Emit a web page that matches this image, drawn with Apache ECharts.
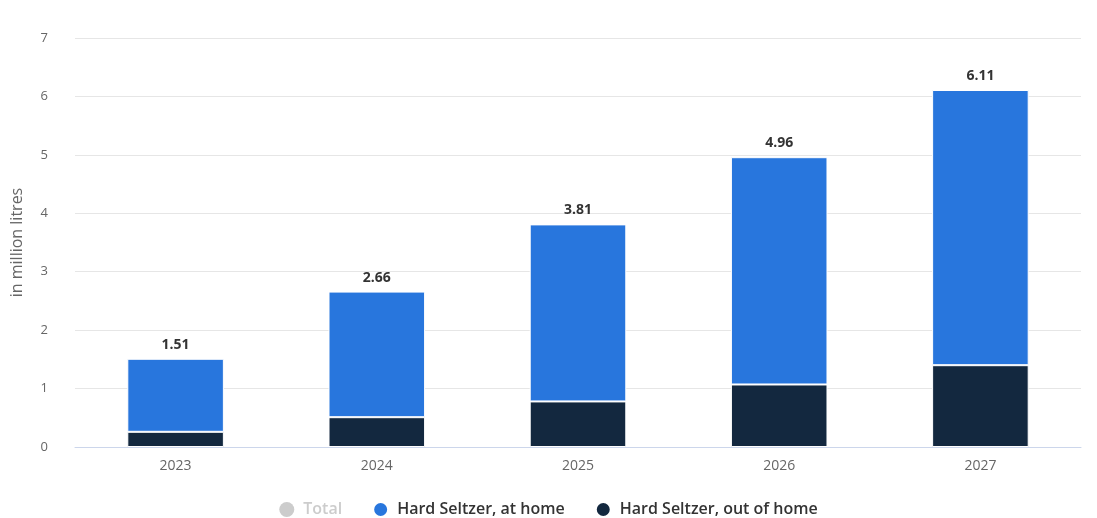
<!DOCTYPE html>
<html>
<head>
<meta charset="utf-8">
<script src="https://cdn.jsdelivr.net/npm/echarts@6/dist/echarts.min.js"></script>
<style>html,body{margin:0;padding:0;background:#fff}#c{width:1097px;height:518px}</style>
</head>
<body>
<div id="c"></div>
<script>
const categories = ['2023', '2024', '2025', '2026', '2027'];
const atHome = [1.25, 2.15, 3.03, 3.89, 4.71];
const outOfHome = [0.26, 0.51, 0.78, 1.07, 1.40];
const totals = [1.51, 2.66, 3.81, 4.96, 6.11];
const yTicks = [0, 1, 2, 3, 4, 5, 6, 7];

const font = 'Open Sans, Lato, sans-serif';
const chart = echarts.init(document.getElementById('c'), null, {renderer: 'canvas'});
chart.setOption({
  animation: false,
  textStyle: {fontFamily: font},
  grid: {left: 75, right: 16, top: 38, bottom: 71, containLabel: false, outerBoundsMode: 'none'},
  legend: {
    top: 496,
    left: 'center',
    icon: 'circle',
    itemWidth: 15,
    itemHeight: 15,
    itemGap: 30,
    textStyle: {color: '#333', fontSize: 16, fontWeight: 600, fontFamily: font, padding: [0, 0, 0, 4]},
    data: [
      {name: 'Total', itemStyle: {color: '#cccccc'}, textStyle: {color: '#cccccc'}},
      {name: 'Hard Seltzer, at home'},
      {name: 'Hard Seltzer, out of home'}
    ]
  },
  xAxis: {
    type: 'category',
    data: categories,
    axisLine: {lineStyle: {color: '#ccd6eb'}},
    axisTick: {alignWithLabel: true, length: 9, lineStyle: {color: '#ccd6eb'}},
    axisLabel: {color: '#666', fontSize: 14, margin: 12, fontFamily: font}
  },
  yAxis: {
    type: 'value',
    min: yTicks[0],
    max: yTicks[yTicks.length - 1],
    interval: 1,
    name: 'in million litres',
    nameLocation: 'middle',
    nameGap: 50,
    nameTextStyle: {color: '#666', fontSize: 16, fontFamily: font},
    axisLabel: {color: '#666', fontSize: 13, margin: 27, fontFamily: font},
    splitLine: {lineStyle: {color: '#e6e6e6'}},
    axisLine: {show: false},
    axisTick: {show: false}
  },
  series: [
    {
      name: 'Hard Seltzer, out of home',
      type: 'bar',
      stack: 's',
      data: outOfHome,
      barWidth: '48%',
      itemStyle: {color: '#13283f', borderColor: '#ffffff', borderWidth: 1},
      z: 2
    },
    {
      name: 'Hard Seltzer, at home',
      type: 'bar',
      stack: 's',
      data: atHome,
      barWidth: '48%',
      itemStyle: {color: '#2876dd', borderColor: '#ffffff', borderWidth: 1},
      label: {
        show: true,
        position: 'top',
        distance: 7,
        color: '#333',
        fontWeight: 'bold',
        fontSize: 14,
        fontFamily: font,
        formatter: p => totals[p.dataIndex].toFixed(2)
      },
      z: 2
    },
    {
      name: 'Total',
      type: 'line',
      data: totals,
      symbol: 'none',
      lineStyle: {opacity: 0},
      itemStyle: {color: '#cccccc'},
      silent: true,
      z: 1
    }
  ]
});
</script>
</body>
</html>
